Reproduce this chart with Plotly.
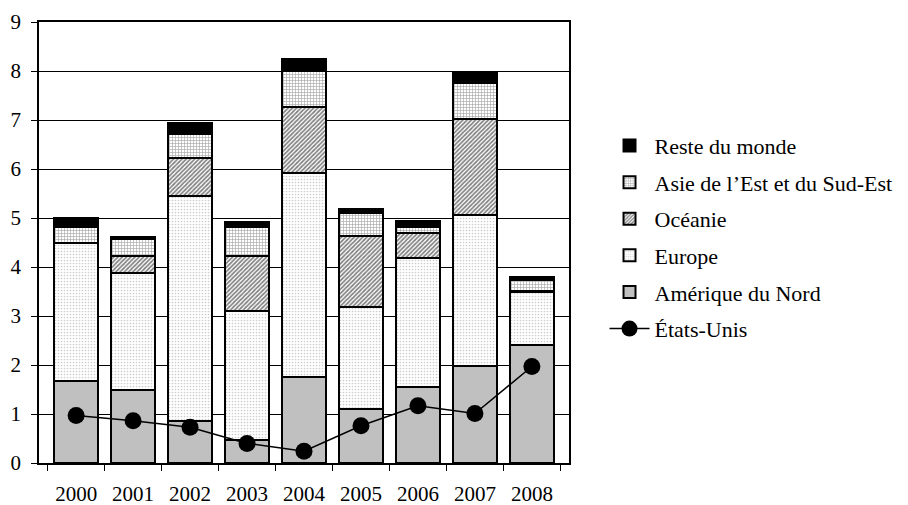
import plotly.graph_objects as go

years = ["2000", "2001", "2002", "2003", "2004", "2005", "2006", "2007", "2008"]

amerique_nord = [1.68, 1.49, 0.86, 0.46, 1.76, 1.10, 1.56, 1.98, 2.41]
europe = [2.82, 2.38, 4.59, 2.65, 4.15, 2.08, 2.62, 3.08, 1.07]
oceanie = [0.00, 0.35, 0.78, 1.11, 1.35, 1.46, 0.51, 1.97, 0.03]
asie_est = [0.32, 0.35, 0.48, 0.60, 0.73, 0.46, 0.13, 0.72, 0.22]
reste_monde = [0.17, 0.05, 0.22, 0.10, 0.25, 0.08, 0.11, 0.23, 0.06]
etats_unis = [0.97, 0.86, 0.73, 0.40, 0.24, 0.76, 1.17, 1.01, 1.97]

FONT = "Liberation Serif"
outline = dict(color="black", width=2)

fig = go.Figure()

# stacked bars, bottom to top; legendrank puts "Reste du monde" first
fig.add_trace(go.Bar(
    x=years, y=amerique_nord, name="Amérique du Nord",
    marker=dict(color="#c0c0c0", line=outline),
    legendgroup="an", legendrank=5,
))
fig.add_trace(go.Bar(
    x=years, y=europe, name="Europe",
    marker=dict(color="white", line=outline,
                pattern=dict(shape=".", fgcolor="#9a9a9a", bgcolor="white",
                             size=3, solidity=0.25)),
    legendgroup="eur", legendrank=4,
))
fig.add_trace(go.Bar(
    x=years, y=oceanie, name="Océanie",
    marker=dict(color="white", line=outline,
                pattern=dict(shape="/", fgcolor="black", bgcolor="white",
                             size=3, solidity=0.55)),
    legendgroup="oc", legendrank=3,
))
fig.add_trace(go.Bar(
    x=years, y=asie_est, name="Asie de l’Est et du Sud-Est",
    marker=dict(color="white", line=outline,
                pattern=dict(shape="+", fgcolor="#555", bgcolor="white",
                             size=3, solidity=0.4)),
    legendgroup="as", legendrank=2,
))
fig.add_trace(go.Bar(
    x=years, y=reste_monde, name="Reste du monde",
    marker=dict(color="black", line=outline),
    legendgroup="rm", legendrank=1,
))
fig.add_trace(go.Scatter(
    x=years, y=etats_unis, name="États-Unis",
    mode="lines+markers",
    line=dict(color="black", width=1.5),
    marker=dict(size=17, color="black"),
    legendgroup="eu", legendrank=6,
))

# page body adds an 8px margin, so the figure is sized to fit the window
fig.update_layout(
    barmode="stack",
    bargap=0.23,
    width=900, height=497,
    margin=dict(l=31, r=338, t=14, b=42),
    paper_bgcolor="white",
    plot_bgcolor="white",
    font=dict(family=FONT, size=21, color="black"),
    legend=dict(
        x=1.065, y=0.767, xanchor="left", yanchor="top",
        traceorder="grouped",
        tracegroupgap=5,
        font=dict(family=FONT, size=22, color="black"),
        itemwidth=40,
        bgcolor="rgba(0,0,0,0)",
    ),
    showlegend=True,
)

fig.update_xaxes(
    showline=True, linecolor="black", linewidth=1.5, mirror=True,
    ticks="outside", tickson="boundaries", ticklen=6, tickcolor="black",
    ticklabelstandoff=11, automargin=False,
    showgrid=False,
)
fig.update_yaxes(
    range=[0, 9], dtick=1,
    showline=True, linecolor="black", linewidth=1.5, mirror=True,
    ticks="outside", ticklen=6, tickcolor="black",
    ticklabelstandoff=6, automargin=False,
    showgrid=True, gridcolor="black", gridwidth=1,
    zeroline=False,
)

fig.write_html("out.html")
